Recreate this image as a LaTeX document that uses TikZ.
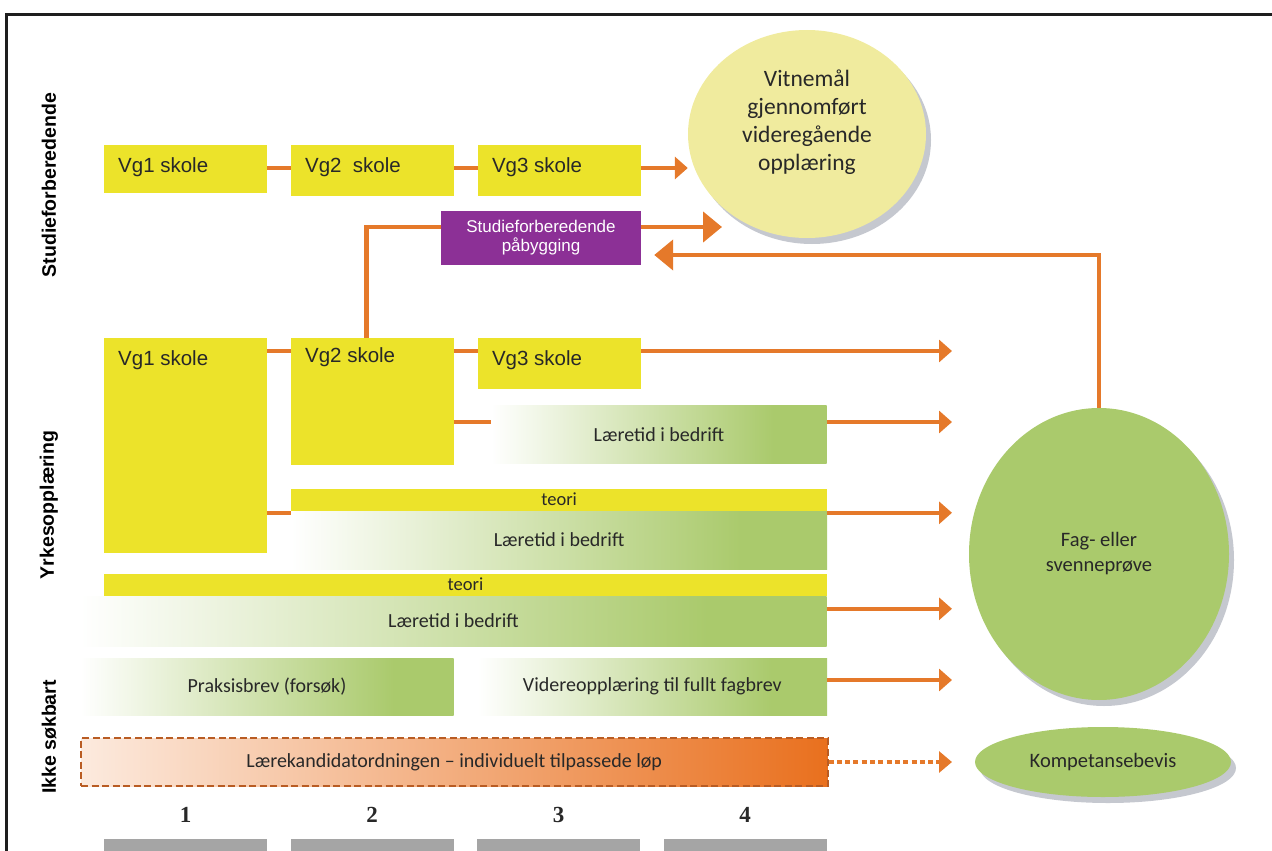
\documentclass[tikz,border=0pt]{standalone}
\usepackage{fontspec}
\setmainfont{Carlito}
\newfontfamily\arialfont{Liberation Sans}
\newfontfamily\timesfont{Liberation Serif}
\usetikzlibrary{arrows.meta, positioning, shapes.geometric, shadows}
\definecolor{vgyellow}{RGB}{236,227,42}
\definecolor{vityellow}{RGB}{240,235,158}
\definecolor{appgreen}{RGB}{170,202,108}
\definecolor{floworange}{RGB}{229,121,42}
\definecolor{lkorange}{RGB}{233,112,30}
\definecolor{lklight}{RGB}{252,234,222}
\definecolor{lkborder}{RGB}{185,92,35}
\definecolor{pabpurple}{RGB}{140,48,150}
\definecolor{bargray}{RGB}{165,165,165}
\definecolor{textdark}{RGB}{40,40,40}
\definecolor{shadowgray}{RGB}{140,145,160}
\definecolor{framegray}{RGB}{30,30,30}
\pgfdeclarehorizontalshading{larshade}{100bp}{color(0bp)=(white); color(25bp)=(white); color(67bp)=(appgreen); color(100bp)=(appgreen)}
\pgfdeclarehorizontalshading{lkshade}{100bp}{color(0bp)=(lklight); color(25bp)=(lklight); color(75bp)=(lkorange); color(100bp)=(lkorange)}
\tikzset{
  sectlabel/.style={
    rotate=90, inner sep=0pt,
    font=\arialfont\bfseries\fontsize{19.5}{22}\selectfont\color{black}
  },
  vgbox/.style={
    fill=vgyellow, minimum width=163pt, inner sep=0pt,
    anchor=north west
  },
  vglabel/.style={
    font=\arialfont\fontsize{20.5}{24}\selectfont\color{textdark},
    anchor=north west, inner sep=0pt, xshift=14pt, yshift=-12pt
  },
  pabbox/.style={
    fill=pabpurple, minimum width=200pt, minimum height=54pt,
    inner sep=0pt, align=center,
    font=\arialfont\fontsize{17}{19}\selectfont\color{white}
  },
  vitcircle/.style={
    ellipse, fill=vityellow, minimum width=238pt, minimum height=208pt,
    inner sep=0pt,
    drop shadow={shadow xshift=5pt, shadow yshift=-6pt,
                 fill=shadowgray, opacity=0.5}
  },
  vittext/.style={
    align=center, inner sep=0pt, yshift=12pt,
    font=\fontsize{23.5}{28}\selectfont\color{textdark}
  },
  greenellipse/.style={
    ellipse, fill=appgreen, inner sep=0pt, align=center,
    font=\fontsize{20.5}{25}\selectfont\color{textdark},
    drop shadow={shadow xshift=5pt, shadow yshift=-6pt,
                 fill=shadowgray, opacity=0.5}
  },
  larbox/.style={
    shade, shading=larshade, anchor=north west, inner sep=0pt,
    font=\fontsize{20}{24}\selectfont\color{textdark}
  },
  teobox/.style={
    fill=vgyellow, anchor=north west, minimum height=22pt,
    inner sep=0pt, font=\fontsize{18.5}{20}\selectfont\color{textdark}
  },
  lkbox/.style={
    shade, shading=lkshade, anchor=north west, inner sep=0pt,
    draw=lkborder, line width=2pt, dash pattern=on 7pt off 3.5pt,
    font=\fontsize{20}{24}\selectfont\color{textdark}
  },
  yearnum/.style={
    font=\timesfont\bfseries\fontsize{23}{26}\selectfont\color{textdark}
  },
  yearbar/.style={
    fill=bargray, anchor=north west, minimum width=163pt,
    minimum height=20pt, inner sep=0pt
  },
  flowline/.style={
    draw=floworange, line width=4.5pt
  },
  flowarrow/.style={
    -{Triangle[length=13pt,width=22pt]},
    draw=floworange, line width=4.5pt
  },
  bigarrow/.style={
    -{Triangle[length=19pt,width=30pt]},
    draw=floworange, line width=4.5pt
  },
  dotarrow/.style={
    -{Triangle[length=13pt,width=21pt]},
    draw=floworange, line width=4.5pt, dash pattern=on 5pt off 3.3pt
  },
}

\begin{document}
\begin{tikzpicture}[x=1pt, y=-1pt]

  \useasboundingbox (0,0) rectangle (1272,851);
  \draw[framegray, line width=3pt] (1280,15) -- (6,15) -- (6,860);

  %% Row headings
  \node[sectlabel] (hsf) at (49,185) {Studieforberedende};
  \node[sectlabel] (hyrk) at (49,505) {Yrkesopplæring};
  \node[sectlabel] (hikke) at (49,737) {Ikke søkbart};

  %% Studieforberedende
  \node[vgbox, minimum height=48pt,
        label={[vglabel]north west:Vg1 skole}] (sf1) at (104,145) {};
  \node[vgbox, minimum height=51pt, right=23.5pt of sf1.north east,
        anchor=north west, label={[vglabel]north west:Vg2~~skole}] (sf2) {};
  \node[vgbox, minimum height=51pt, right=23.5pt of sf2.north east,
        anchor=north west, label={[vglabel]north west:Vg3 skole}] (sf3) {};

  \node[vitcircle,
        label={[vittext]center:Vitnemål\\gjennomført\\videregående\\opplæring}]
        (vit) at (807,134) {};

  \node[pabbox] (pab) at (541,238) {Studieforberedende\\påbygging};
  \coordinate (vitin) at (722,227);

  \draw[flowline] ([yshift=-23pt]sf1.north east) -- ([yshift=-23pt]sf2.north west);
  \draw[flowline] ([yshift=-23pt]sf2.north east) -- ([yshift=-23pt]sf3.north west);
  \draw[flowarrow] ([yshift=-23pt]sf3.north east) -- ([yshift=-23pt]sf3.north east -| vit.west);

  %% Yrkesopplaering
  \node[vgbox, minimum height=215pt,
        label={[vglabel]north west:Vg1 skole}] (yr1) at (104,338) {};
  \node[vgbox, minimum height=127pt, right=23.5pt of yr1.north east,
        anchor=north west, label={[vglabel, yshift=3pt]north west:Vg2 skole}] (yr2) {};
  \node[vgbox, minimum height=51pt, right=23.5pt of yr2.north east,
        anchor=north west, label={[vglabel]north west:Vg3 skole}] (yr3) {};

  \node[larbox, minimum width=335.5pt, minimum height=58pt] (lar1)
    at (491,405) {Læretid i bedrift};
  \node[teobox, minimum width=536pt, below=23pt of yr2.south west,
        anchor=north west] (teo1) {teori};
  \node[larbox, minimum width=536pt, minimum height=58pt,
        below=0pt of teo1.south west, anchor=north west] (lar2) {Læretid i bedrift};
  \node[teobox, minimum width=722.5pt, below=20pt of yr1.south west,
        anchor=north west] (teo2) {teori};
  \node[larbox, minimum width=746.5pt, minimum height=50pt,
        below=0pt of teo2.south east, anchor=north east] (lar3) {Læretid i bedrift};

  %% Ikke soekbart
  \node[larbox, minimum width=373.5pt, minimum height=57pt] (prak)
    at (80,658) {Praksisbrev (forsøk)};
  \node[larbox, minimum width=349.5pt, minimum height=57pt,
        right=23.5pt of prak.north east, anchor=north west] (vid)
    {Videreopplæring til fullt fagbrev};
  \node[lkbox, minimum width=746.5pt, minimum height=48pt] (lk)
    at (80,737) {Lærekandidatordningen – individuelt tilpassede løp};

  %% Outcomes
  \node[greenellipse, minimum width=260pt, minimum height=292pt] (fag)
    at (1099,554) {Fag- eller\\svenneprøve};
  \node[greenellipse, minimum width=256pt, minimum height=70pt] (kbev)
    at (1103,762) {Kompetansebevis};
  \coordinate (fagx) at (952,554);

  %% Connectors
  \draw[flowline] ([xshift=-6pt]yr2.north) |- ([yshift=11pt]pab.west);
  \draw[bigarrow] ([yshift=11pt]pab.east) -- (vitin);
  \draw[bigarrow] (fag.north) |- ([xshift=13pt, yshift=-17pt]pab.east);

  \draw[flowline] ([yshift=-13pt]yr1.north east) -- ([yshift=-13pt]yr2.north west);
  \draw[flowline] ([yshift=-13pt]yr2.north east) -- ([yshift=-13pt]yr3.north west);
  \draw[flowarrow] ([yshift=-13pt]yr3.north east) -- ([yshift=-13pt]yr3.north east -| fagx);

  \draw[flowline] ([yshift=-17pt]lar1.north west -| yr2.east) -- ([yshift=-17pt]lar1.north west);
  \draw[flowarrow] ([yshift=-17pt]lar1.north east) -- ([yshift=-17pt]lar1.north east -| fagx);

  \draw[flowline] ([yshift=-2pt]lar2.north west -| yr1.east) -- ([yshift=-2pt]lar2.north west);
  \draw[flowarrow] ([yshift=-2pt]lar2.north east) -- ([yshift=-2pt]lar2.north east -| fagx);

  \draw[flowarrow] ([yshift=-13pt]lar3.north east) -- ([yshift=-13pt]lar3.north east -| fagx);
  \draw[flowarrow] ([yshift=-22pt]vid.north east) -- ([yshift=-22pt]vid.north east -| fagx);
  \draw[dotarrow] (lk.east) -- (lk.east -| fagx);

  %% Years
  \node[yearnum] (num1) at (185.5,815) {1};
  \node[yearnum] (num2) at (372,815) {2};
  \node[yearnum] (num3) at (558.5,815) {3};
  \node[yearnum] (num4) at (745,815) {4};
  \node[yearbar] (bar1) at (104,839) {};
  \node[yearbar] (bar2) at (290.5,839) {};
  \node[yearbar] (bar3) at (477,839) {};
  \node[yearbar] (bar4) at (663.5,839) {};

\end{tikzpicture}
\end{document}
